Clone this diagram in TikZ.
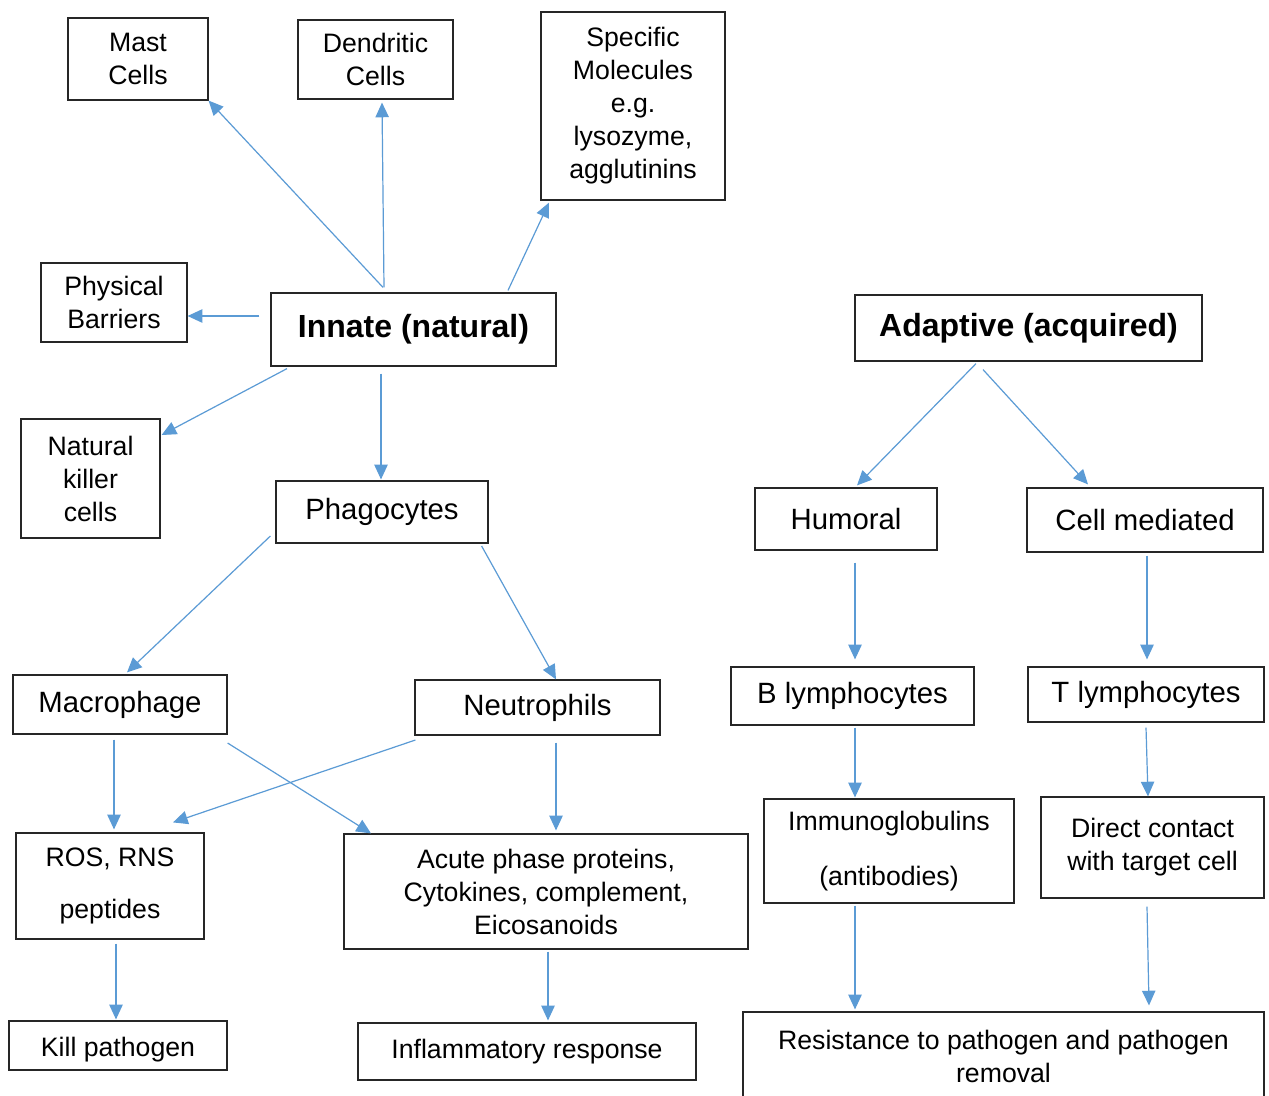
\documentclass[tikz,border=0pt]{standalone}
\usepackage{fontspec}
\setmainfont{Liberation Sans}
\usetikzlibrary{arrows.meta,fit,calc}
\definecolor{arrowblue}{HTML}{5B9BD5}
\begin{document}
\begin{tikzpicture}[x=0.75pt,y=-0.75pt,
  box/.style={draw=black!85, line width=0.9pt, inner sep=0pt},
  txt/.style={align=center, inner sep=0pt, font=\fontsize{20}{24.75}\selectfont},
  midtxt/.style={txt, font=\fontsize{22}{26}\selectfont},
  bigtxt/.style={txt, font=\fontsize{24}{29}\selectfont\bfseries},
  arr/.style={draw=arrowblue, line width=0.9pt, -{Triangle[length=11pt,width=10pt]}}]
\useasboundingbox (0,0) rectangle (1269,1095);
\fill[white] (0,0) rectangle (1269,1095);
% nodes
\node[box, fit={(68,18) (208,100)}, label={[txt]center:Mast\\Cells}] (mast) {};
\node[box, fit={(298,20) (453,99)}, label={[txt]center:Dendritic\\Cells}] (dend) {};
\node[box, fit={(541,12) (725,200)}, label={[txt]center:{Specific\\Molecules\\e.g.\\lysozyme,\\agglutinins}}] (spec) {};
\node[box, fit={(41,263) (187,342)}, label={[txt]center:Physical\\Barriers}] (phys) {};
\node[box, fit={(271,293) (556,366)}, label={[bigtxt]center:Innate (natural)}] (innate) {};
\node[box, fit={(855,295) (1202,361)}, label={[bigtxt]center:Adaptive (acquired)}] (adapt) {};
\node[box, fit={(21,419) (160,538)}, label={[txt]center:Natural\\killer\\cells}] (nk) {};
\node[box, fit={(276,481) (488,543)}, label={[midtxt]center:Phagocytes}] (phag) {};
\node[box, fit={(755,488) (937,550)}, label={[midtxt]center:Humoral}] (hum) {};
\node[box, fit={(1027,488) (1263,552)}, label={[midtxt]center:Cell mediated}] (cm) {};
\node[box, fit={(13,675) (227,734)}, label={[midtxt]center:Macrophage}] (mac) {};
\node[box, fit={(415,680) (660,735)}, label={[midtxt]center:Neutrophils}] (neu) {};
\node[box, fit={(731,667) (974,725)}, label={[midtxt]center:B lymphocytes}] (bl) {};
\node[box, fit={(1028,667) (1264,722)}, label={[midtxt]center:T lymphocytes}] (tl) {};
\node[box, fit={(16,833) (204,939)}, label={[txt]center:{ROS, RNS\\[14pt]peptides}}] (ros) {};
\node[box, fit={(344,834) (748,949)}, label={[txt]center:{Acute phase proteins,\\Cytokines, complement,\\Eicosanoids}}] (acute) {};
\node[box, fit={(764,799) (1014,903)}, label={[txt]center:{Immunoglobulins\\[16pt](antibodies)}}] (imm) {};
\node[box, fit={(1041,797) (1264,898)}, label={[txt]center:{Direct contact\\with target cell}}] (dir) {};
\node[box, fit={(9,1021) (227,1070)}, label={[txt, yshift=-3pt]center:Kill pathogen}] (kill) {};
\node[box, fit={(358,1023) (696,1080)}, label={[txt]center:Inflammatory response}] (infl) {};
\node[box, fit={(743,1012) (1264,1100)}, label={[txt]center:{Resistance to pathogen and pathogen\\removal}}] (res) {};
% connectors
\draw[arr] ($(innate.north)+(-30.5,-5)$) -- (mast.south east);
\draw[arr] ($(innate.north)+(-29.5,-5)$) -- ($(dend.south)+(6.5,3)$);
\draw[arr] ($(innate.north)+(94.5,-2)$) -- ($(spec.south)+(-84,2)$);
\draw[arr] ($(innate.west)+(-11,-13.5)$) -- ($(phys.east)+(0,13.5)$);
\draw[arr] ($(innate.south)+(-126.5,2)$) -- ($(nk.east)+(1,-43.5)$);
\draw[arr] ($(innate.south)+(-32.5,7)$) -- ($(phag.north)+(-1,-1)$);
\draw[arr] ($(phag.west)+(-5,24)$) -- ($(mac.north)+(7,-2)$);
\draw[arr] ($(phag.east)+(-7,34)$) -- ($(neu.north)+(18.5,0)$);
\draw[arr] ($(mac.south)+(-6,5)$) -- ($(ros.north)+(4,-3)$);
\draw[arr] ($(mac.east)+(0,38.5)$) -- ($(acute.north)+(-175,0)$);
\draw[arr] ($(neu.west)+(1,32.5)$) -- ($(ros.north)+(63,-10)$);
\draw[arr] ($(neu.south)+(18.5,7)$) -- ($(acute.north)+(10,-3)$);
\draw[arr] ($(ros.south)+(6,4)$) -- ($(kill.north)+(-2,-1)$);
\draw[arr] ($(acute.south)+(2,2)$) -- ($(infl.north)+(21,-2)$);
\draw[arr] ($(adapt.south)+(-52.5,2)$) -- ($(hum.north)+(11,-2)$);
\draw[arr] ($(adapt.south)+(-45.5,8)$) -- ($(cm.north)+(-57,-3)$);
\draw[arr] ($(hum.south)+(9,12)$) -- ($(bl.north)+(2.5,-7)$);
\draw[arr] ($(cm.south)+(2,3)$) -- ($(tl.north)+(1,-7)$);
\draw[arr] ($(bl.south)+(2.5,2)$) -- ($(imm.north)+(-34,-1)$);
\draw[arr] ($(tl.south)+(0,5)$) -- ($(dir.north)+(-4.5,0)$);
\draw[arr] ($(imm.south)+(-34,2)$) -- ($(res.north)+(-148.5,-2)$);
\draw[arr] ($(dir.south)+(-5.5,8)$) -- ($(res.north)+(145.5,-6)$);
\end{tikzpicture}
\end{document}
